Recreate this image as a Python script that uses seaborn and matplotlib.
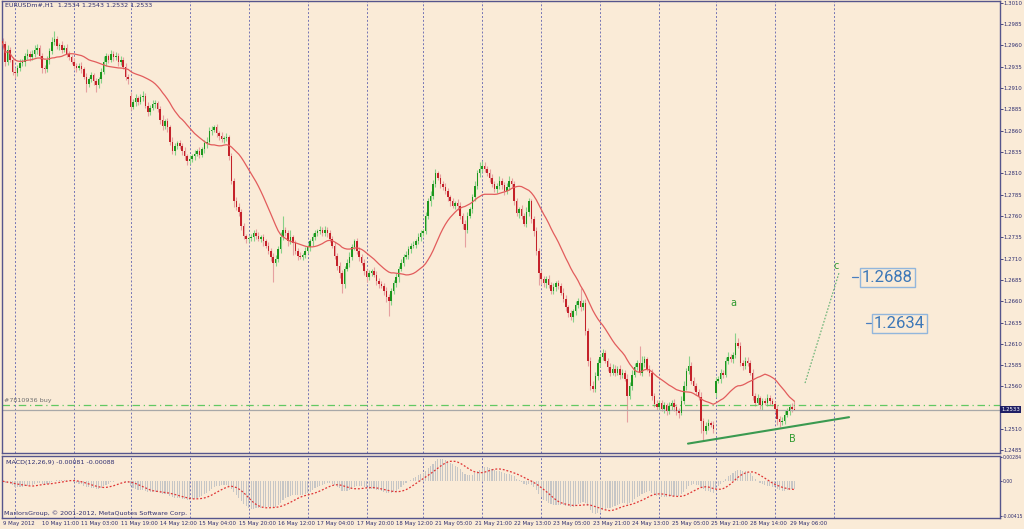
import numpy as np
import pandas as pd
import matplotlib
matplotlib.use("Agg")
import matplotlib.pyplot as plt
import seaborn as sns

# ---------------- data (EURUSD H1, prices in pips: 12962 -> 1.2962) ----------------
c_0509 = [12962, 12941, 12955, 12943]
c_0510 = [12929, 12927, 12934, 12939, 12941, 12947, 12950, 12946, 12950, 12955, 12957, 12947,
          12934, 12932, 12943, 12953, 12964, 12967, 12959, 12960, 12955, 12957, 12950, 12946]
c_0511 = [12941, 12936, 12934, 12936, 12932, 12923, 12915, 12920, 12925, 12918, 12913, 12920,
          12929, 12941, 12947, 12943, 12950, 12946, 12948, 12941, 12943, 12935, 12923, 12920]
c_0514 = [12888, 12894, 12898, 12894, 12899, 12901, 12889, 12882, 12887, 12891, 12892, 12885,
          12873, 12865, 12871, 12864, 12847, 12836, 12842, 12845, 12842, 12836, 12830, 12824]
c_0515 = [12827, 12830, 12833, 12836, 12832, 12838, 12845, 12847, 12859, 12861, 12864, 12857,
          12854, 12850, 12851, 12852, 12830, 12801, 12777, 12771, 12765, 12748, 12736, 12733]
c_0516 = [12734, 12735, 12740, 12737, 12733, 12735, 12730, 12725, 12719, 12712, 12705, 12709,
          12721, 12735, 12744, 12740, 12730, 12735, 12728, 12719, 12713, 12712, 12714, 12719]
c_0517 = [12723, 12730, 12735, 12740, 12742, 12744, 12740, 12744, 12740, 12733, 12725, 12713,
          12701, 12693, 12680, 12698, 12705, 12712, 12723, 12730, 12719, 12712, 12705, 12695]
c_0518 = [12688, 12693, 12695, 12691, 12684, 12680, 12678, 12672, 12665, 12660, 12672, 12681,
          12688, 12698, 12705, 12712, 12714, 12721, 12725, 12726, 12730, 12735, 12740, 12742]
c_0521 = [12760, 12777, 12783, 12798, 12810, 12805, 12798, 12794, 12789, 12782, 12777, 12772,
          12775, 12772, 12760, 12751, 12744, 12760, 12768, 12782, 12795, 12810, 12815, 12819]
c_0522 = [12815, 12810, 12805, 12798, 12791, 12795, 12801, 12796, 12789, 12794, 12801, 12798,
          12777, 12763, 12768, 12760, 12751, 12765, 12777, 12756, 12742, 12719, 12693, 12686]
c_0523 = [12681, 12686, 12679, 12672, 12677, 12681, 12678, 12670, 12663, 12653, 12646, 12641,
          12648, 12655, 12660, 12653, 12658, 12625, 12590, 12561, 12557, 12572, 12588, 12595]
c_0524 = [12599, 12590, 12583, 12576, 12581, 12576, 12581, 12574, 12576, 12569, 12549, 12561,
          12574, 12583, 12588, 12576, 12588, 12592, 12581, 12576, 12549, 12540, 12536, 12541]
c_0525 = [12534, 12538, 12531, 12537, 12541, 12536, 12531, 12529, 12543, 12561, 12578, 12584,
          12567, 12561, 12553, 12548, 12520, 12508, 12514, 12517, 12515, 12510]
c_0528 = [12567, 12569, 12576, 12574, 12590, 12595, 12592, 12597, 12611, 12608, 12588, 12584,
          12590, 12588, 12576, 12549, 12541, 12546, 12538, 12543, 12541, 12546, 12543, 12540]
c_0529 = [12534, 12522, 12518, 12520, 12527, 12531, 12536, 12534, 12533]

# upper / lower wick lengths in pips
u_0509 = [4, 3, 5, 3]
u_0510 = [3, 4, 3, 5, 3, 4, 6, 3, 4, 5, 4, 3, 4, 3, 5, 4, 6, 10, 4, 3, 5, 3, 4, 3]
u_0511 = [3, 4, 3, 3, 5, 3, 4, 3, 4, 3, 4, 3, 5, 6, 4, 3, 5, 3, 4, 3, 5, 3, 4, 3]
u_0514 = [4, 3, 5, 3, 4, 6, 3, 4, 3, 5, 4, 3, 4, 5, 3, 4, 3, 5, 4, 3, 4, 3, 5, 3]
u_0515 = [4, 3, 4, 3, 5, 3, 4, 6, 5, 4, 3, 4, 3, 4, 3, 5, 3, 4, 3, 5, 4, 3, 4, 3]
u_0516 = [3, 4, 3, 5, 4, 3, 4, 3, 4, 3, 4, 5, 4, 6, 16, 3, 4, 8, 3, 4, 3, 5, 3, 4]
u_0517 = [4, 3, 5, 4, 3, 4, 3, 4, 3, 4, 3, 4, 3, 5, 4, 3, 4, 6, 4, 3, 4, 5, 3, 4]
u_0518 = [3, 4, 3, 5, 4, 3, 4, 3, 5, 4, 3, 4, 5, 3, 4, 3, 5, 4, 3, 4, 3, 5, 4, 3]
u_0521 = [5, 4, 6, 4, 5, 3, 4, 3, 5, 4, 3, 4, 3, 5, 4, 3, 4, 5, 3, 4, 6, 4, 8, 5]
u_0522 = [4, 3, 5, 4, 3, 4, 6, 3, 4, 5, 6, 4, 3, 4, 3, 5, 4, 6, 4, 3, 4, 5, 3, 4]
u_0523 = [3, 4, 5, 3, 4, 3, 4, 3, 5, 4, 3, 4, 3, 5, 4, 15, 3, 4, 3, 4, 6, 5, 4, 3]
u_0524 = [5, 4, 3, 4, 5, 4, 3, 4, 5, 3, 6, 4, 5, 4, 3, 20, 8, 4, 3, 4, 5, 3, 4, 3]
u_0525 = [3, 4, 3, 5, 3, 4, 3, 4, 6, 5, 4, 12, 5, 4, 3, 4, 5, 3, 4, 5, 3, 4]
u_0528 = [4, 3, 5, 3, 4, 5, 3, 4, 12, 6, 4, 3, 5, 4, 3, 4, 3, 5, 3, 4, 3, 5, 4, 3]
u_0529 = [3, 4, 3, 4, 5, 4, 3, 5, 9]

d_0509 = [3, 5, 4, 3]
d_0510 = [4, 5, 3, 4, 3, 5, 3, 4, 3, 4, 5, 3, 6, 4, 3, 5, 3, 4, 3, 5, 4, 3, 4, 3]
d_0511 = [3, 4, 5, 3, 4, 3, 10, 4, 3, 4, 8, 3, 4, 3, 5, 4, 3, 4, 3, 5, 4, 3, 4, 5]
d_0514 = [4, 3, 5, 4, 3, 4, 3, 5, 4, 3, 4, 3, 5, 4, 3, 6, 4, 3, 5, 4, 3, 4, 5, 4]
d_0515 = [3, 4, 5, 3, 4, 3, 4, 5, 3, 4, 3, 4, 5, 3, 4, 3, 5, 4, 6, 4, 5, 4, 3, 5]
d_0516 = [4, 3, 5, 4, 3, 4, 5, 3, 4, 5, 22, 4, 3, 4, 3, 4, 5, 3, 14, 4, 5, 3, 4, 3]
d_0517 = [3, 4, 5, 3, 4, 3, 4, 3, 5, 4, 3, 4, 5, 6, 10, 4, 3, 5, 4, 3, 4, 5, 3, 4]
d_0518 = [5, 3, 4, 3, 5, 4, 3, 5, 6, 17, 4, 3, 4, 5, 3, 4, 3, 5, 4, 3, 4, 3, 5, 4]
d_0521 = [3, 4, 5, 3, 4, 3, 5, 4, 3, 4, 5, 3, 4, 5, 4, 6, 20, 4, 3, 5, 4, 3, 4, 3]
d_0522 = [4, 3, 5, 4, 3, 4, 3, 5, 4, 3, 4, 5, 4, 3, 5, 4, 3, 4, 5, 4, 6, 5, 14, 6]
d_0523 = [4, 5, 3, 4, 3, 5, 4, 3, 4, 5, 4, 3, 5, 4, 3, 4, 3, 5, 6, 5, 4, 3, 4, 5]
d_0524 = [4, 3, 5, 4, 3, 4, 3, 5, 4, 3, 31, 4, 5, 3, 4, 3, 4, 5, 3, 4, 5, 4, 3, 4]
d_0525 = [3, 5, 4, 3, 4, 5, 4, 6, 3, 4, 5, 3, 4, 5, 3, 4, 14, 12, 4, 5, 3, 5]
d_0528 = [4, 3, 5, 4, 3, 4, 3, 5, 4, 3, 4, 5, 3, 4, 3, 5, 4, 3, 4, 5, 3, 4, 5, 3]
d_0529 = [4, 7, 5, 3, 4, 3, 5, 4, 1]

first_open = 12965
gap_opens = {52: 12901, 290: 12552}   # weekend gap opening prices

x_tick_labels = ["9 May 2012", "10 May 11:00", "11 May 03:00", "11 May 19:00", "14 May 12:00",
                 "15 May 04:00", "15 May 20:00", "16 May 12:00", "17 May 04:00", "17 May 20:00",
                 "18 May 12:00", "21 May 05:00", "21 May 21:00", "22 May 13:00", "23 May 05:00",
                 "23 May 21:00", "24 May 13:00", "25 May 05:00", "25 May 21:00", "28 May 14:00",
                 "29 May 06:00"]
day_starts = [5, 29, 52, 76, 100, 124, 148, 171, 195, 219, 243, 267, 290, 314, 338]

price_ticks = [1.2485 + 0.0025 * k for k in range(22)]
macd_ticks = [0.00284, 0.0, -0.00415]
macd_tick_labels = ["0.00284", "0.00", "-0.00415"]
last_price = 1.2533
order_price = 1.2538
target_levels = [1.2688, 1.2634]

# ---------------- build frame ----------------
days_c = [c_0509, c_0510, c_0511, c_0514, c_0515, c_0516, c_0517, c_0518, c_0521, c_0522,
          c_0523, c_0524, c_0525, c_0528, c_0529]
days_u = [u_0509, u_0510, u_0511, u_0514, u_0515, u_0516, u_0517, u_0518, u_0521, u_0522,
          u_0523, u_0524, u_0525, u_0528, u_0529]
days_d = [d_0509, d_0510, d_0511, d_0514, d_0515, d_0516, d_0517, d_0518, d_0521, d_0522,
          d_0523, d_0524, d_0525, d_0528, d_0529]
close = np.array(sum(days_c, []), dtype=float) / 1e4
up = np.array(sum(days_u, []), dtype=float) / 1e4
dn = np.array(sum(days_d, []), dtype=float) / 1e4
opn = np.concatenate([[first_open / 1e4], close[:-1]])
for k, v in gap_opens.items():
    opn[k] = v / 1e4
high = np.maximum(opn, close) + up
low = np.minimum(opn, close) - dn
n = len(close)
df = pd.DataFrame({"bar": np.arange(n), "open": opn, "high": high, "low": low, "close": close})
df["ma"] = df["close"].rolling(21, min_periods=1).mean()
ema12 = df["close"].ewm(span=12, adjust=False).mean()
ema26 = df["close"].ewm(span=26, adjust=False).mean()
df["macd"] = ema12 - ema26
df["signal"] = df["macd"].rolling(9, min_periods=1).mean()

# ---------------- style ----------------
sns.set_theme(style="white")
plt.rcParams["font.family"] = ["DejaVu Sans"]
BG = "#FAEBD7"
NAVY = "#2e2e70"
GRID = "#7474b4"
SMALL = 4.6
TICK = 3.9

W, H = 1024, 529
def rect(l, t, r, b):
    return [l / W, 1 - b / H, (r - l) / W, (b - t) / H]

fig = plt.figure(figsize=(W / 100, H / 100), dpi=100, facecolor=BG)
ax = fig.add_axes(rect(2, 1, 1000, 453))
axm = fig.add_axes(rect(2, 456, 1000, 518))
XL = (-0.3, 405.6)
for a in (ax, axm):
    a.set_facecolor(BG)
    a.set_xlim(*XL)
    for s in a.spines.values():
        s.set_color("#55558c")
        s.set_linewidth(1.0)
    for d in day_starts:
        a.axvline(d, color=GRID, lw=0.7, ls=(0, (2, 2)), zorder=1)

# candles
bull = df["close"] >= df["open"]
body_col = np.where(bull, "#1c961c", "#c4222a")
wick_col = np.where(bull, "#88d088", "#e6a0a0")
ax.vlines(df["bar"], df["low"], df["high"], colors=wick_col, lw=0.8, zorder=2)
body_h = np.maximum((df["close"] - df["open"]).abs(), 0.00003)
ax.bar(df["bar"], body_h, bottom=np.minimum(df["open"], df["close"]), width=0.62,
       color=body_col, lw=0, zorder=3)
sns.lineplot(data=df, x="bar", y="ma", ax=ax, color="#e25c5c", lw=0.9, zorder=4, legend=False)

# horizontal lines
ax.axhline(last_price, color="#a8a8a8", lw=0.9, zorder=2)
ax.axhline(order_price, color="#62c862", lw=0.9, ls=(0, (6, 3, 1, 3)), zorder=2)
ax.text(0.002, order_price + 0.0003, "#7810936 buy", transform=ax.get_yaxis_transform(),
        fontsize=SMALL, color="#707070", va="bottom", ha="left")

# trend line and projection
ax.plot([278.7, 344.2], [1.2493, 1.2524], color="#3a9a50", lw=1.5, zorder=5)
ax.plot([326.3, 340.1], [1.2564, 1.2693], color="#5fae6f", lw=0.8, ls=(0, (1.5, 1.5)), zorder=5)
ax.text(297, 1.2658, "a", color="#2f9a2f", fontsize=7, ha="center", va="center")
ax.text(321, 1.2499, "B", color="#2f9a2f", fontsize=7, ha="center", va="center")
ax.text(338.9, 1.2701, "c", color="#2f9a2f", fontsize=7, ha="center", va="center")

# target price boxes
for lvl, (t0, t1, tx) in zip(target_levels, [(345.4, 347.8, 349.4), (351.1, 353.1, 354.3)]):
    ax.plot([t0, t1], [lvl, lvl], color="#4a7ec0", lw=0.9)
    ax.text(tx, lvl, f"{lvl:.4f}", family="Roboto", fontsize=12, color="#3d78b8",
            ha="left", va="center",
            bbox=dict(boxstyle="square,pad=0.12", fc="none", ec="#92b6dc", lw=1))

# axes / ticks main
ax.set_ylim(1.2482, 1.3012)
ax.yaxis.tick_right()
ax.set_yticks(price_ticks)
ax.set_yticklabels(["" if abs(v - 1.2535) < 1e-6 else f"{v:.4f}" for v in price_ticks])
ax.tick_params(axis="y", direction="out", length=2, width=0.6, colors=NAVY, labelsize=TICK, pad=0.8)
ax.tick_params(axis="x", bottom=False, labelbottom=False)
ax.set_xlabel("")
ax.set_ylabel("")
ax.text(0.003, 0.996, "EURUSDm#,H1  1.2534 1.2543 1.2532 1.2533", transform=ax.transAxes,
        fontsize=SMALL, color=NAVY, ha="left", va="top")
ax.text(1.0015, last_price, f"{last_price:.4f}", transform=ax.get_yaxis_transform(),
        fontsize=TICK, color="white", ha="left", va="center", zorder=10,
        bbox=dict(boxstyle="square,pad=0.2", fc="#1f1f66", ec="none"))

# MACD panel
axm.bar(df["bar"], df["macd"], width=0.45, color="#c6c6c6", lw=0, zorder=2)
sns.lineplot(data=df, x="bar", y="signal", ax=axm, color="#e03535", lw=0.9,
             ls=(0, (1.5, 1.5)), zorder=3, legend=False)
axm.set_ylim(-0.00440, 0.00300)
axm.yaxis.tick_right()
axm.set_yticks(macd_ticks)
axm.set_yticklabels(macd_tick_labels)
axm.tick_params(axis="y", direction="out", length=1.5, width=0.6, colors=NAVY, labelsize=3.3, pad=0.4)
axm.set_xticks(list(range(0, 321, 16)))
axm.set_xticklabels(x_tick_labels, ha="left")
axm.tick_params(axis="x", direction="out", length=2, width=0.6, colors=NAVY, labelsize=TICK, pad=0.5)
axm.set_xlabel("")
axm.set_ylabel("")
axm.text(0.004, 0.93, "MACD(12,26,9) -0.00081 -0.00088", transform=axm.transAxes,
         fontsize=SMALL, color=NAVY, ha="left", va="top")
axm.text(0.002, 0.04, "MarlorsGroup, \u00a9 2001-2012, MetaQuotes Software Corp.",
         transform=axm.transAxes, fontsize=SMALL, color=NAVY, ha="left", va="bottom")

fig.savefig("out.png", dpi=100, facecolor=BG)
